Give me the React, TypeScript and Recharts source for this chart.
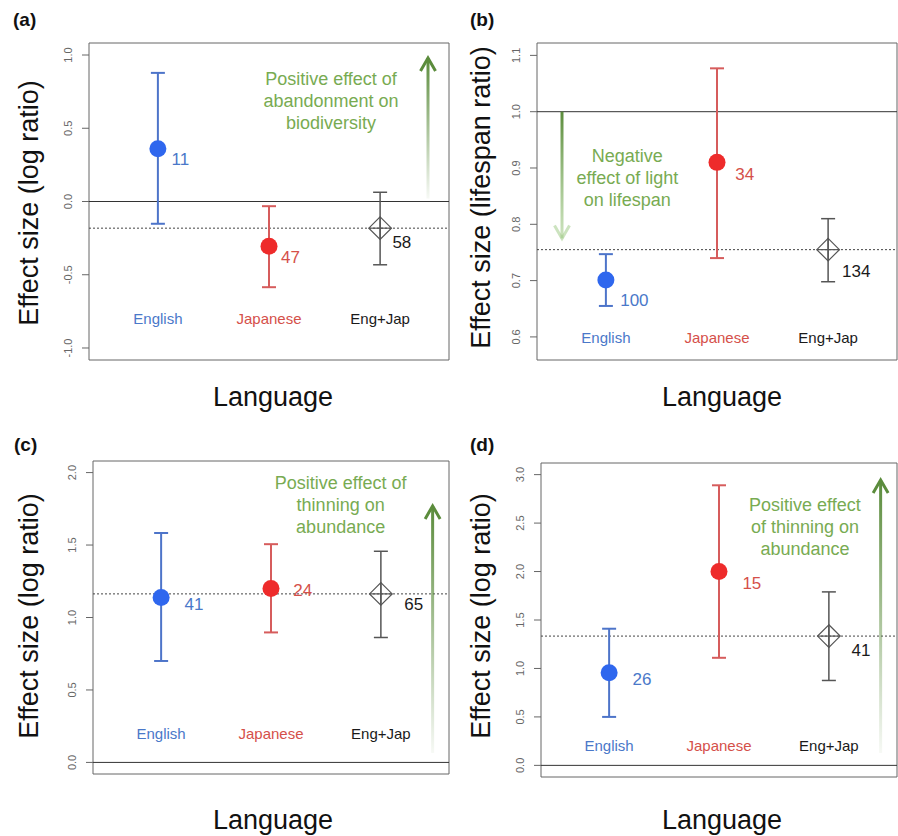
import {
  ComposedChart, Scatter, XAxis, YAxis, ErrorBar,
  ReferenceLine, ReferenceArea, ReferenceDot,
} from 'recharts';

const FONT = '"Liberation Sans", Arial, sans-serif';

const languages = ['English', 'Japanese', 'Eng+Jap'];
const positions = [1, 2, 3];

// (a) abandonment -> biodiversity, log ratio
const meanA = [0.36, -0.305, -0.182];
const lowerA = [-0.152, -0.585, -0.432];
const upperA = [0.878, -0.032, 0.063];
const countA = [11, 47, 58];
const ticksA = [-1, -0.5, 0, 0.5, 1];

// (b) light -> lifespan ratio
const meanB = [0.701, 0.91, 0.755];
const lowerB = [0.655, 0.74, 0.698];
const upperB = [0.747, 1.077, 0.81];
const countB = [100, 34, 134];
const ticksB = [0.6, 0.7, 0.8, 0.9, 1.0, 1.1];

// (c) thinning -> abundance, log ratio
const meanC = [1.138, 1.2, 1.163];
const lowerC = [0.7, 0.897, 0.862];
const upperC = [1.583, 1.506, 1.457];
const countC = [41, 24, 65];
const ticksC = [0, 0.5, 1, 1.5, 2];

// (d) thinning -> abundance, log ratio
const meanD = [0.955, 2.0, 1.334];
const lowerD = [0.5, 1.11, 0.876];
const upperD = [1.41, 2.89, 1.79];
const countD = [26, 15, 41];
const ticksD = [0, 0.5, 1, 1.5, 2, 2.5, 3];

const X_DOMAIN = [0.38, 3.62];

const barColors = ['#4d74c9', '#d65c5c', '#555555'];
const pointColors = ['#2f67ee', '#ee2b2b', '#444444'];
const textColors = ['#4a78c9', '#d5504a', '#1a1a1a'];
const GREEN_TEXT = '#78ab52';
const GREEN_DARK = '#5b8c3c';

const panels = [
  {
    id: 'a', left: 0, top: 0, width: 450, height: 418,
    margin: { top: 43, right: 1, bottom: 58, left: 49 },
    domain: [-1.082, 1.082], ticks: ticksA,
    mean: meanA, lower: lowerA, upper: upperA, count: countA,
    base: 0, labelY: -0.833,
    countOffset: [[13.7, 16], [12, 16.6], [12.3, 20.3]],
    arrow: { x: 3.431, from: 0.02, to: 0.98, tailOp: 0.05, headOp: 1, headColor: GREEN_DARK, tailColor: GREEN_DARK },
    note: { x: 2.558, y: 0.794, lines: ['Positive effect of', 'abandonment on', 'biodiversity'] },
    title: 'Effect size (log ratio)', letter: '(a)',
    letterPos: [13, 26], yLabPos: [28.5, 203], langPos: [273, 406],
  },
  {
    id: 'b', left: 449, top: 0, width: 449, height: 418,
    margin: { top: 43, right: 1, bottom: 58, left: 48 },
    domain: [0.559, 1.122], ticks: ticksB,
    mean: meanB, lower: lowerB, upper: upperB, count: countB,
    base: 1.0, labelY: 0.59,
    countOffset: [[14.3, 25.7], [18.3, 17.7], [14, 27.4]],
    arrow: { x: 0.605, from: 1.0, to: 0.775, tailOp: 1, headOp: 0.45, headColor: '#8fc070', tailColor: GREEN_DARK },
    note: { x: 1.193, y: 0.911, lines: ['Negative', 'effect of light', 'on lifespan'] },
    title: 'Effect size (lifespan ratio)', letter: '(b)',
    letterPos: [470, 26], yLabPos: [481, 197.5], langPos: [722, 406],
  },
  {
    id: 'c', left: 0, top: 418, width: 450, height: 418,
    margin: { top: 43, right: 1, bottom: 62, left: 53 },
    domain: [-0.08, 2.08], ticks: ticksC,
    mean: meanC, lower: lowerC, upper: upperC, count: countC,
    base: 0, labelY: 0.161,
    countOffset: [[23.3, 12.7], [22.3, 7.4], [23.3, 16.3]],
    arrow: { x: 3.471, from: 0.065, to: 1.77, tailOp: 0.05, headOp: 1, headColor: GREEN_DARK, tailColor: GREEN_DARK },
    note: { x: 2.634, y: 1.885, lines: ['Positive effect of', 'thinning on', 'abundance'] },
    title: 'Effect size (log ratio)', letter: '(c)',
    letterPos: [14, 451], yLabPos: [28.5, 616], langPos: [273, 829],
  },
  {
    id: 'd', left: 449, top: 418, width: 449, height: 418,
    margin: { top: 45, right: 1, bottom: 59, left: 52 },
    domain: [-0.12, 3.12], ticks: ticksD,
    mean: meanD, lower: lowerD, upper: upperD, count: countD,
    base: 0, labelY: 0.148,
    countOffset: [[23.4, 12.3], [23.4, 17.3], [22.7, 19.7]],
    arrow: { x: 3.471, from: 0.127, to: 2.945, tailOp: 0.05, headOp: 1, headColor: GREEN_DARK, tailColor: GREEN_DARK },
    note: { x: 2.782, y: 2.625, lines: ['Positive effect', 'of thinning on', 'abundance'] },
    title: 'Effect size (log ratio)', letter: '(d)',
    letterPos: [470, 451], yLabPos: [481, 616], langPos: [722, 829],
  },
];

const YTick = (props: any) => {
  const { x, y, payload } = props;
  return (
    <text x={x} y={y} transform={`rotate(-90 ${x} ${y})`} textAnchor="middle"
      dominantBaseline="central" fontSize={11} fill="#666" fontFamily={FONT}>
      {Number(payload.value).toFixed(1)}
    </text>
  );
};

function Arrow(props: any) {
  const { x1, y1, x2, y2, gid, spec } = props;
  const len = Math.hypot(x2 - x1, y2 - y1) || 1;
  const ux = (x2 - x1) / len;
  const uy = (y2 - y1) / len;
  const bx = x2 - ux * 13;
  const by = y2 - uy * 13;
  return (
    <g>
      <defs>
        <linearGradient id={gid} gradientUnits="userSpaceOnUse" x1={x1} y1={y1} x2={x2} y2={y2}>
          <stop offset="0" stopColor={spec.tailColor} stopOpacity={spec.tailOp} />
          <stop offset="1" stopColor={spec.headColor} stopOpacity={spec.headOp} />
        </linearGradient>
      </defs>
      <line x1={x1} y1={y1} x2={x2} y2={y2} stroke={`url(#${gid})`} strokeWidth={3} />
      <polyline
        points={`${bx - uy * 7.5},${by + ux * 7.5} ${x2},${y2} ${bx + uy * 7.5},${by - ux * 7.5}`}
        fill="none" stroke={spec.headColor} strokeOpacity={spec.headOp} strokeWidth={3}
        strokeLinejoin="miter" />
    </g>
  );
}

function Panel({ p }: { p: any }) {
  const labelRows = positions.map((x, i) => ({ x, y: p.labelY, name: languages[i], i }));
  const rows = positions.map((x, i) => ({
    x,
    y: p.mean[i],
    err: [p.mean[i] - p.lower[i], p.upper[i] - p.mean[i]],
    count: p.count[i],
    i,
  }));

  const PointShape = (s: any) => {
    const { cx, cy, payload } = s;
    const i = payload.i;
    const [dx, dy] = p.countOffset[i];
    return (
      <g>
        {i < 2 ? (
          <circle cx={cx} cy={cy} r={8.5} fill={pointColors[i]} />
        ) : (
          <g stroke="#555" strokeWidth={1.2} fill="none">
            <polygon points={`${cx},${cy - 11.3} ${cx + 11.3},${cy} ${cx},${cy + 11.3} ${cx - 11.3},${cy}`} />
            <line x1={cx - 11.3} y1={cy} x2={cx + 11.3} y2={cy} />
            <line x1={cx} y1={cy - 11.3} x2={cx} y2={cy + 11.3} />
          </g>
        )}
        <text x={cx + dx} y={cy + dy} fontSize={17} fill={textColors[i]} fontFamily={FONT}>
          {payload.count}
        </text>
      </g>
    );
  };

  const LabelShape = (s: any) => {
    const { cx, cy, payload } = s;
    return (
      <text x={cx} y={cy} textAnchor="middle" fontSize={15} fill={textColors[payload.i]} fontFamily={FONT}>
        {payload.name}
      </text>
    );
  };

  const NoteShape = (s: any) => (
    <text x={s.cx} y={s.cy} textAnchor="middle" fontSize={18} fill={GREEN_TEXT} fontFamily={FONT}>
      {p.note.lines.map((l: string, k: number) => (
        <tspan key={k} x={s.cx} dy={k === 0 ? 0 : 22}>{l}</tspan>
      ))}
    </text>
  );

  return (
    <div style={{ position: 'absolute', left: p.left, top: p.top }}>
      <ComposedChart width={p.width} height={p.height} margin={p.margin}>
        <XAxis type="number" dataKey="x" domain={X_DOMAIN} hide />
        <YAxis type="number" dataKey="y" domain={p.domain} ticks={p.ticks} interval={0}
          width={40} axisLine={false} tickSize={7} tickMargin={14}
          tickLine={{ stroke: '#666' }} tick={<YTick />} />
        <ReferenceArea x1={X_DOMAIN[0]} x2={X_DOMAIN[1]} y1={p.domain[0]} y2={p.domain[1]}
          fill="none" fillOpacity={0} stroke="#666" strokeWidth={1} ifOverflow="visible" />
        <ReferenceLine y={p.base} stroke="#333" strokeWidth={1} />
        <ReferenceLine y={p.mean[2]} stroke="#444" strokeWidth={1} strokeDasharray="2 2" />
        <ReferenceLine
          segment={[{ x: p.arrow.x, y: p.arrow.from }, { x: p.arrow.x, y: p.arrow.to }]}
          shape={(s: any) => <Arrow {...s} gid={`grad-${p.id}`} spec={p.arrow} />} />
        <ReferenceDot x={p.note.x} y={p.note.y} r={0} shape={NoteShape} />
        <Scatter data={labelRows} dataKey="y" shape={LabelShape} isAnimationActive={false} />
        {rows.map((r) => (
          <Scatter key={r.i} data={[r]} dataKey="y" shape={PointShape} isAnimationActive={false}>
            <ErrorBar dataKey="err" direction="y" width={7} stroke={barColors[r.i]}
              strokeWidth={r.i < 2 ? 2 : 1.5} isAnimationActive={false} />
          </Scatter>
        ))}
      </ComposedChart>
    </div>
  );
}

export default function App() {
  return (
    <div style={{ position: 'absolute', left: 0, top: 0, width: 898, height: 836, background: '#fff' }}>
      {panels.map((p) => <Panel key={p.id} p={p} />)}
      <svg width={898} height={836} style={{ position: 'absolute', left: 0, top: 0, pointerEvents: 'none' }}>
        {panels.map((p) => (
          <g key={p.id} fontFamily={FONT} fill="#111">
            <text x={p.letterPos[0]} y={p.letterPos[1]} fontSize={19} fontWeight="bold">{p.letter}</text>
            <text x={p.yLabPos[0]} y={p.yLabPos[1]} fontSize={27} textAnchor="middle" dominantBaseline="central"
              transform={`rotate(-90 ${p.yLabPos[0]} ${p.yLabPos[1]})`}>{p.title}</text>
            <text x={p.langPos[0]} y={p.langPos[1]} fontSize={27} textAnchor="middle">Language</text>
          </g>
        ))}
      </svg>
    </div>
  );
}
